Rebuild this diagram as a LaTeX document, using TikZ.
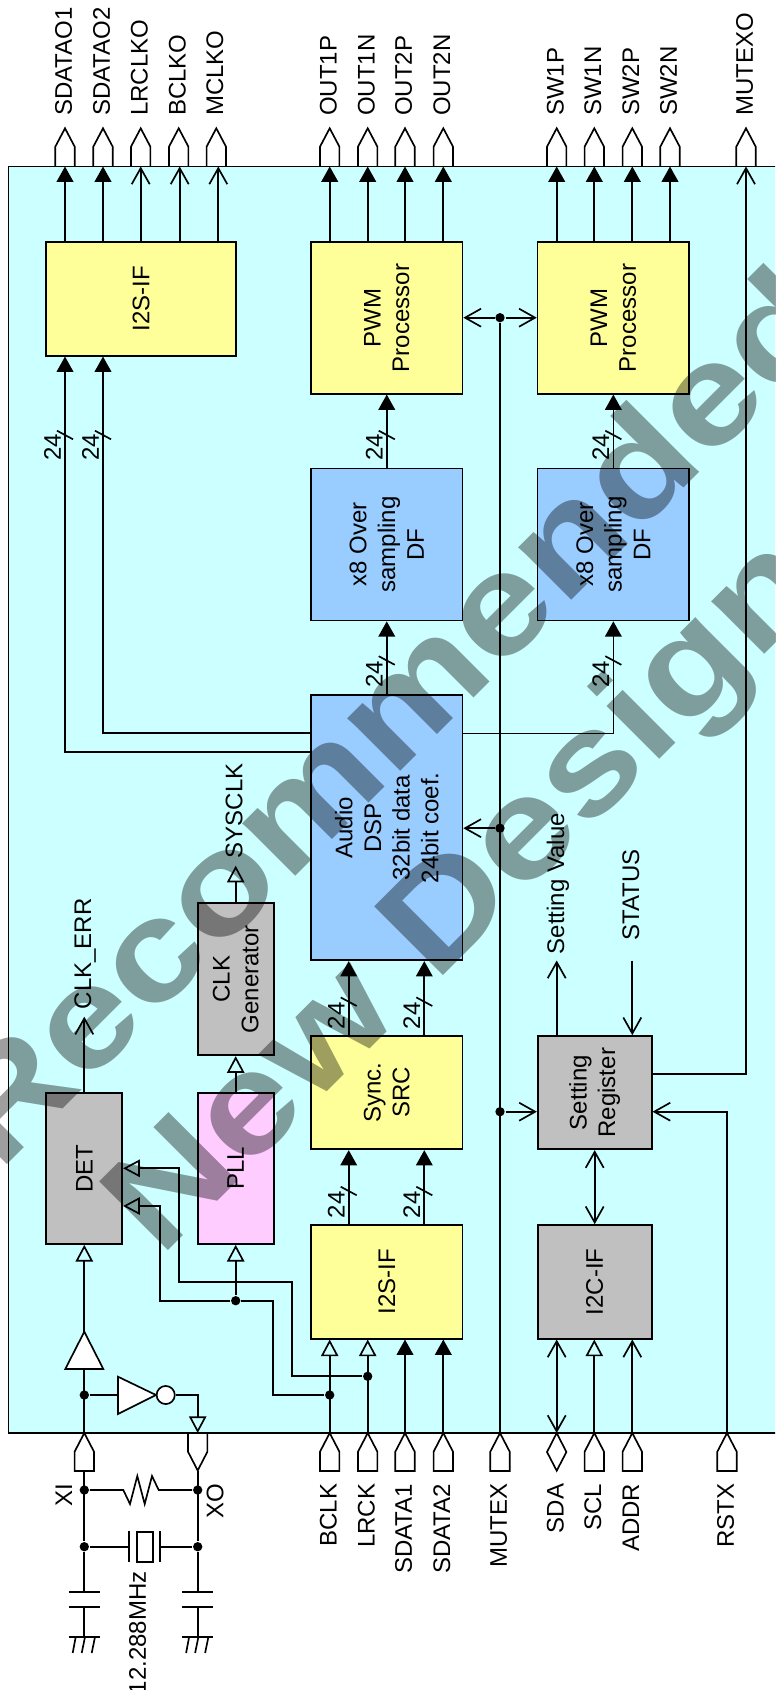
\documentclass[tikz,border=0pt]{standalone}
\usepackage{fontspec}
\usepackage{graphicx}
\setmainfont{Liberation Sans}
\usetikzlibrary{arrows.meta}
\definecolor{chipcyan}{HTML}{CCFFFF}
\definecolor{blockyellow}{HTML}{FFFF99}
\definecolor{blockblue}{HTML}{99CCFF}
\definecolor{blockgray}{HTML}{C0C0C0}
\definecolor{blockpink}{HTML}{FFCCFF}
\newcommand{\labelfont}{\fontsize{18}{21.5}\selectfont}
\newcommand{\markfont}{\fontsize{106}{110}\selectfont\bfseries}
\tikzset{
    solidtip/.style={-{Triangle[length=11.5pt,width=12.5pt]}},
    opentip/.style={-{Triangle[open,length=12.5pt,width=13pt]}},
    barbtip/.style={-{Straight Barb[length=12pt,width=13.5pt]}},
    barbboth/.style={{Straight Barb[length=12pt,width=13.5pt]}-{Straight Barb[length=12pt,width=13.5pt]}},
    blockbox/.style 2 args={draw, rotate=90, align=center, minimum width=#1*0.75pt, minimum height=#2*0.75pt},
    pinlabel/.style={rotate=90, text depth=0pt},
    dot/.style={circle, fill=black, minimum size=7pt},
    watermark/.style={rotate=45, anchor=base west, text opacity=0.38, font=\markfont}
}
\begin{document}
\begin{tikzpicture}[
        x=0.75pt, y=-0.75pt,
        line width=1.25pt,
        every node/.style={font=\labelfont, inner sep=0pt}
    ]
    \useasboundingbox (0,0) rectangle (775,1690);
    \clip (0,0) rectangle (775,1690);

    % Chip outline
    \draw[fill=chipcyan] (8.5,166.5) rectangle (800,1433);

    % Blocks (rotated: east is up, west is down, north is left, south is right)
    \node[blockbox={113.4}{189.4}, fill=blockyellow] (I2Sout) at (141,299) {I2S-IF};
    \node[blockbox={151.4}{151.5}, fill=blockyellow] (PWMa) at (386.75,318) {PWM\\Processor};
    \node[blockbox={151.4}{151.5}, fill=blockyellow] (PWMb) at (613.35,318) {PWM\\Processor};
    \node[blockbox={151.9}{151.5}, fill=blockblue] (DFa) at (386.75,544.55) {x8 Over\\sampling\\DF};
    \node[blockbox={151.9}{151.5}, fill=blockblue] (DFb) at (613.35,544.55) {x8 Over\\sampling\\DF};
    \node[blockbox={265.1}{151.5}, fill=blockblue] (DSP) at (386.75,827.75) {Audio\\DSP\\32bit data\\24bit coef.};
    \node[blockbox={113.3}{151.5}, fill=blockyellow] (SRC) at (386.75,1092.65) {Sync.\\SRC};
    \node[blockbox={113.7}{151.5}, fill=blockyellow] (I2Sin) at (386.75,1281.85) {I2S-IF};
    \node[blockbox={113.3}{114}, fill=blockgray] (SET) at (594.7,1092.65) {Setting\\Register};
    \node[blockbox={113.7}{114}, fill=blockgray] (I2C) at (594.7,1281.85) {I2C-IF};
    \node[blockbox={151}{76}, fill=blockgray] (DET) at (84.3,1168.5) {DET};
    \node[blockbox={151}{76}, fill=blockpink] (PLL) at (235.7,1168.5) {PLL};
    \node[blockbox={152}{76}, fill=blockgray] (CLK) at (235.7,979.3) {CLK\\Generator};

    % Output pins
    \foreach \n/\x/\txt in {SDOa/65/SDATAO1, SDOb/103/SDATAO2, LRO/140.7/LRCLKO, BCO/178.7/BCLKO, MCO/216.3/MCLKO,
                            OUTaP/329.7/OUT1P, OUTaN/367.7/OUT1N, OUTbP/405/OUT2P, OUTbN/443.3/OUT2N,
                            SWaP/556.7/SW1P, SWaN/594.3/SW1N, SWbP/632.3/SW2P, SWbN/670/SW2N, MUTEXO/746/MUTEXO} {
        \coordinate (\n) at (\x,166.5);
        \draw (\x-9.7,166.5) -- (\x-9.7,146.7) -- (\x,128.3) -- (\x+9.7,146.7) -- (\x+9.7,166.5);
        \node[pinlabel, anchor=west] (\n L) at (\x-1.5,116.7) {\txt};
    }

    % Input pins
    \foreach \n/\x/\txt in {BCLK/329.7/BCLK, LRCK/367.7/LRCK, SDIa/405/SDATA1, SDIb/443.3/SDATA2, MUTEX/500/MUTEX,
                            SCL/594.3/SCL, ADDR/632.3/ADDR, RSTX/727/RSTX} {
        \coordinate (\n) at (\x,1433);
        \draw (\x-9.7,1471) -- (\x+9.7,1471) -- (\x+9.7,1451.7) -- (\x,1433) -- (\x-9.7,1451.7) -- cycle;
        \node[pinlabel, anchor=east] (\n L) at (\x-1.5,1483) {\txt};
    }
    \coordinate (XI) at (84.3,1433);
    \draw (74.6,1471) -- (94,1471) -- (94,1451.7) -- (XI) -- (74.6,1451.7) -- cycle;
    \node[pinlabel, anchor=east] (XIL) at (63.8,1483) {XI};
    \coordinate (XO) at (197.7,1433);
    \draw (188,1433) -- (188,1451.7) -- (197.7,1470.5) -- (207.4,1451.7) -- (207.4,1433);
    \node[pinlabel, anchor=east] (XOL) at (215,1483) {XO};
    \coordinate (SDA) at (556.7,1433);
    \draw (SDA) -- (566.4,1452) -- (556.7,1470.7) -- (547,1452) -- cycle;
    \node[pinlabel, anchor=east] (SDAL) at (555.2,1483) {SDA};

    % Junctions
    \node[dot] (XId) at (84.3,1395) {};
    \node[dot] (BCLKd) at (329.7,1395) {};
    \node[dot] (LRCKd) at (367.7,1376.3) {};
    \node[dot] (PLLd) at (235.7,1300.7) {};
    \node[dot] (MUTa) at (500,317.7) {};
    \node[dot] (MUTb) at (500,828.2) {};
    \node[dot] (MUTc) at (500,1111.7) {};
    \node[dot] (XIr) at (84.3,1490) {};
    \node[dot] (XOr) at (197.7,1490) {};
    \node[dot] (XIx) at (84.3,1546.7) {};
    \node[dot] (XOx) at (197.7,1546.7) {};

    % Connections - outputs
    \foreach \n in {SDOa,SDOb}
        \draw[solidtip] (I2Sout.east -| \n) -- (\n);
    \coordinate (BCOin) at (179.7,166.5);
    \coordinate (MCOin) at (218.3,166.5);
    \foreach \n in {LRO,BCOin,MCOin}
        \draw[barbtip] (I2Sout.east -| \n) -- (\n);
    \foreach \n in {OUTaP,OUTaN,OUTbP,OUTbN}
        \draw[solidtip] (PWMa.east -| \n) -- (\n);
    \foreach \n in {SWaP,SWaN,SWbP,SWbN}
        \draw[solidtip] (PWMb.east -| \n) -- (\n);

    % Connections - audio path
    \draw[solidtip] (DFa.east) -- (PWMa.west);
    \draw[solidtip] (DFb.east) -- (PWMb.west);
    \draw[solidtip] (DSP.east) -- (DFa.west);
    \coordinate (dspb) at (613.35,733.4);
    \draw[solidtip] (DSP.south |- dspb) -- (dspb) -- (DFb.west);
    \coordinate (dspl) at (103,733.3);
    \coordinate (dspk) at (65,752.3);
    \draw[solidtip] (DSP.north |- dspl) -- (dspl) -- (I2Sout.west -| dspl);
    \draw[solidtip] (DSP.north |- dspk) -- (dspk) -- (I2Sout.west -| dspk);
    \coordinate (srcl) at (348.7,1100);
    \coordinate (srcr) at (424.3,1100);
    \foreach \n in {srcl,srcr} {
        \draw[solidtip] (SRC.east -| \n) -- (DSP.west -| \n);
        \draw[solidtip] (I2Sin.east -| \n) -- (SRC.west -| \n);
    }

    % Bus marks
    \foreach \n/\x/\y/\s in {a/65/435/461.7, b/103/435/461.7, c/386.75/435/461.7, d/613.35/435/461.7,
                             e/386.75/660.5/688.6, f/613.35/660.5/688.6,
                             g/348.7/1001.7/1030, h/424.3/1001.7/1030, i/348.7/1191/1219, j/424.3/1191/1219} {
        \draw (\x-8,\y-4.3) -- (\x+8,\y+4.3);
        \node[pinlabel, anchor=west] (bus\n) at (\x-12.5,\s) {24};
    }

    % Connections - inputs
    \draw[opentip] (BCLK) -- (I2Sin.west -| BCLK);
    \draw[opentip] (LRCK) -- (I2Sin.west -| LRCK);
    \draw[solidtip] (SDIa) -- (I2Sin.west -| SDIa);
    \draw[solidtip] (SDIb) -- (I2Sin.west -| SDIb);

    % Connections - clock
    \coordinate (deta) at (160,1206);
    \coordinate (detb) at (179,1168.3);
    \draw[opentip] (BCLKd) -- (273.3,1395) -- (273.3,1300.7) -- (PLLd) -- (160,1300.7) -- (deta) -- (DET.south |- deta);
    \draw[opentip] (LRCKd) -- (292.3,1376.3) -- (292.3,1281.7) -- (179,1281.7) -- (detb) -- (DET.south |- detb);
    \draw[opentip] (PLLd) -- (PLL.west);
    \draw[opentip] (PLL.east) -- (CLK.west);
    \coordinate (sysclk) at (235.7,865.7);
    \draw[opentip] (CLK.east) -- (sysclk);
    \node[pinlabel, anchor=west] (SYSCLKL) at (234,859) {SYSCLK};
    \coordinate (clkerr) at (84.3,1016.7);
    \draw[barbtip] (DET.east) -- (clkerr);
    \node[pinlabel, anchor=west] (CLKERRL) at (82.7,1010) {CLK\_ERR};

    % Buffer and inverter at XI
    \coordinate (bufin) at (84.3,1369);
    \coordinate (bufout) at (84.3,1331.7);
    \draw (XI) -- (bufin);
    \draw[fill=white] (65.3,1369) -- (bufout) -- (103.3,1369) -- cycle;
    \draw[opentip] (bufout) -- (DET.west);
    \coordinate (invin) at (118,1395);
    \draw (XId) -- (invin);
    \draw[fill=white] (118,1376.7) -- (156,1395) -- (118,1414) -- cycle;
    \node[circle, draw, fill=white, minimum size=13.6pt] (invb) at (165.7,1395) {};
    \draw[opentip] (invb.east) -- (XO |- invb) -- (XO);

    % Connections - control
    \draw (MUTEX) -- (MUTa);
    \draw[barbtip] (MUTa) -- (PWMa.south |- MUTa);
    \draw[barbtip] (MUTa) -- (PWMb.north |- MUTa);
    \draw[barbtip] (MUTb) -- (DSP.south |- MUTb);
    \draw[barbtip] (MUTc) -- (SET.north |- MUTc);
    \draw[barbboth] (SET.west) -- (I2C.east);
    \draw[barbboth] (SDA) -- (I2C.west -| SDA);
    \draw[opentip] (SCL) -- (I2C.west -| SCL);
    \draw[barbtip] (ADDR) -- (I2C.west -| ADDR);
    \draw[barbtip] (RSTX) -- (RSTX |- MUTc) -- (SET.south |- MUTc);
    \coordinate (setm) at (700,1073.9);
    \draw[barbtip] (SET.south |- setm) -- (MUTEXO |- setm) -- (MUTEXO);
    \coordinate (setval) at (556.7,960.5);
    \draw[barbtip] (SET.east -| setval) -- (setval);
    \node[pinlabel, anchor=west] (SETVALL) at (555.5,955) {Setting Value};
    \coordinate (status) at (632.3,960.5);
    \draw[barbtip] (status) -- (SET.east -| status);
    \node[pinlabel, anchor=west] (STATUSL) at (630.7,941) {STATUS};

    % Crystal circuit
    \draw (84.3,1471) -- (XIx);
    \draw (197.7,1470.5) -- (XOx);
    \draw (XIr) -- (123.3,1490) -- (130,1504) -- (137.3,1476) -- (144.7,1504) -- (152,1476) -- (158.7,1490) -- (XOr);
    \draw (XIx) -- (129.3,1546.7);
    \draw (160,1546.7) -- (XOx);
    \draw (129.3,1531) -- (129.3,1562);
    \draw (160,1531) -- (160,1562);
    \draw (137,1531.7) rectangle (152.7,1561.7);
    \node[pinlabel, anchor=east] (XTALL) at (137.5,1570.7) {12.288MHz};
    \foreach \n/\x in {XIx/84.3, XOx/197.7} {
        \draw (\n) -- (\x,1591.7);
        \draw (\x-15.5,1591.7) -- (\x+15.5,1591.7);
        \draw (\x-15.5,1607) -- (\x+15.5,1607);
        \draw (\x,1607) -- (\x,1637);
        \draw (\x-15.5,1637) -- (\x+15.5,1637);
        \draw (\x-8.6,1637) -- (\x-11.6,1653);
        \draw (\x+0.7,1637) -- (\x-2.6,1653);
        \draw (\x+10.7,1637) -- (\x+7.4,1653);
    }

    % Watermark
    \node[watermark] (markA) at (-1,1173) {\scalebox{1.18}[1]{Recommended}};
    \node[watermark] (markB) at (160,1259) {\scalebox{1.18}[1]{New Design}};
\end{tikzpicture}
\end{document}
